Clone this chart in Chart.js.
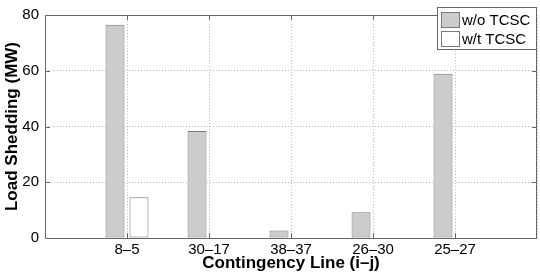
<!DOCTYPE html>
<html>
<head>
<meta charset="utf-8">
<script src="https://cdn.jsdelivr.net/npm/chart.js@4/dist/chart.umd.min.js"></script>
<style>
  html, body { margin: 0; padding: 0; background: #fff; }
  #wrap { width: 540px; height: 275px; position: relative; }
</style>
</head>
<body>
<div id="wrap"><canvas id="myChart" width="540" height="275"></canvas></div>
<script>
// contingency lines (i-j)
const categories = ['8\u20135', '30\u201317', '38\u201337', '26\u201330', '25\u201327'];
const withoutTcsc = [76.5, 38.4, 2.7, 9.2, 58.9];
const withTcsc = [14.6, 0, 0, 0, 0];
const yTicks = [0, 20, 40, 60, 80];

// empty slots at both ends, like the matlab axis running from 0 to 6
const labels = [''].concat(categories, ['']);
const pad = arr => [null].concat(arr, [null]);

const frameColor = '#666';

// box, inward ticks and the legend drawn on top
const matlabFrame = {
  id: 'matlabFrame',
  afterDraw(chart) {
    const { ctx, chartArea: a, scales } = chart;
    ctx.save();
    ctx.strokeStyle = frameColor;
    ctx.lineWidth = 1;
    ctx.beginPath();
    ctx.rect(Math.round(a.left) + 0.5, Math.round(a.top) + 0.5,
      Math.round(a.right - a.left) - 1, Math.round(a.bottom - a.top));
    ctx.stroke();

    ctx.beginPath();
    for (let i = 1; i <= categories.length; i++) {
      const x = Math.round(scales.x.getPixelForValue(i)) + 0.5;
      ctx.moveTo(x, a.bottom); ctx.lineTo(x, a.bottom - 5);
      ctx.moveTo(x, a.top); ctx.lineTo(x, a.top + 5);
    }
    yTicks.slice(1, -1).forEach(v => {
      const y = Math.round(scales.y.getPixelForValue(v)) + 0.5;
      ctx.moveTo(a.left, y); ctx.lineTo(a.left + 5, y);
      ctx.moveTo(a.right, y); ctx.lineTo(a.right - 5, y);
    });
    ctx.stroke();

    // legend box in the upper right corner
    const bx = 437.5, by = 7.5, bw = 99, bh = 42;
    ctx.fillStyle = '#fff';
    ctx.fillRect(bx, by, bw, bh);
    ctx.strokeRect(bx, by, bw, bh);
    ctx.font = '15px "Liberation Sans", Arial, sans-serif';
    ctx.textBaseline = 'middle';
    chart.data.datasets.forEach((ds, i) => {
      const sy = 12.5 + i * 19;
      ctx.fillStyle = ds.backgroundColor;
      ctx.fillRect(441.5, sy, 18, 15);
      ctx.strokeStyle = ds.borderColor;
      ctx.strokeRect(441.5, sy, 18, 15);
      ctx.fillStyle = '#000';
      ctx.fillText(ds.label, 462, sy + 8);
    });
    ctx.restore();
  }
};

const ctx = document.getElementById('myChart').getContext('2d');
const myChart = new Chart(ctx, {
  type: 'bar',
  data: {
    labels: labels,
    datasets: [{
      label: 'w/o TCSC',
      data: pad(withoutTcsc),
      backgroundColor: '#cccccc',
      borderColor: '#7a7a7a',
      borderWidth: 1,
      borderSkipped: false
    }, {
      label: 'w/t TCSC',
      data: pad(withTcsc),
      backgroundColor: '#ffffff',
      borderColor: '#7a7a7a',
      borderWidth: 1,
      borderSkipped: false
    }]
  },
  options: {
    responsive: false,
    animation: false,
    devicePixelRatio: 1,
    categoryPercentage: 0.584,
    barPercentage: 0.79,
    layout: { padding: { top: 7, right: 2, left: 0, bottom: 0 } },
    plugins: { legend: { display: false }, tooltip: { enabled: false } },
    scales: {
      x: {
        offset: false,
        grid: { offset: false, drawTicks: false, color: '#bdbdbd' },
        border: { display: false, dash: [1, 2] },
        ticks: {
          padding: 3, color: '#000', maxRotation: 0, autoSkip: false,
          font: { family: '"Liberation Sans", Arial, sans-serif', size: 15 }
        },
        title: {
          display: true, text: 'Contingency Line (i\u2013j)', color: '#000',
          padding: { top: 0, bottom: 1 },
          font: { family: '"Liberation Sans", Arial, sans-serif', size: 17, weight: 'bold' }
        },
        afterFit(scale) { scale.height = 37; }
      },
      y: {
        min: 0, max: 80,
        grid: { drawTicks: false, color: '#bdbdbd' },
        border: { display: false, dash: [1, 2] },
        ticks: {
          stepSize: 20, padding: 6, color: '#000',
          font: { family: '"Liberation Sans", Arial, sans-serif', size: 15 }
        },
        title: {
          display: true, text: 'Load Shedding (MW)', color: '#000',
          padding: { top: 2, bottom: 0 },
          font: { family: '"Liberation Sans", Arial, sans-serif', size: 17, weight: 'bold' }
        },
        afterFit(scale) { scale.width = 45; }
      }
    }
  },
  plugins: [matlabFrame]
});
</script>
</body>
</html>
